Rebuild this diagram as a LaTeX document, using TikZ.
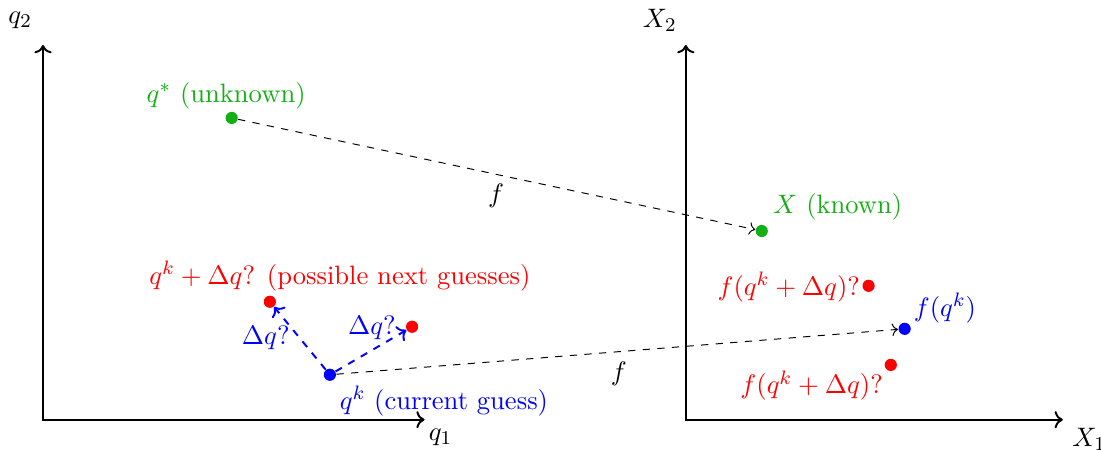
\documentclass[tikz,border=0pt]{standalone}
\usetikzlibrary{arrows.meta, positioning}
\definecolor{cgreen}{RGB}{20,175,20}
\tikzset{
  every picture/.style={font=\fontsize{10.9}{13}\selectfont},
  dot/.style={circle, fill=#1, inner sep=0pt, minimum size=5pt},
  dot/.default=black,
  axis/.style={<->, thick},
  maparrow/.style={->, dashed, draw=black},
  steparrow/.style={->, dashed, thick, draw=blue},
  lbl/.style={text=#1, inner sep=2pt},
  lbl/.default=black,
}
\begin{document}
\begin{tikzpicture}
  \useasboundingbox (-0.62,-0.43) rectangle (15.25,6.05);
  % joint space
  \coordinate (o1) at (0,0);
  \coordinate (q1end) at (5.5,0);
  \coordinate (q2end) at (0,5.4);
  \draw[axis] (q2end) -- (o1) -- (q1end);
  \node[lbl] (q1lab) at (5.73,-0.25) {$q_1$};
  \node[lbl] (q2lab) at (-0.33,5.76) {$q_2$};
  % task space
  \coordinate (o2) at (9.265,0);
  \coordinate (X1end) at (14.7,0);
  \coordinate (X2end) at (9.265,5.4);
  \draw[axis] (X2end) -- (o2) -- (X1end);
  \node[lbl] (X1lab) at (15.08,-0.29) {$X_1$};
  \node[lbl] (X2lab) at (8.89,5.76) {$X_2$};
  % points
  \node[dot=cgreen] (qstar) at (2.72,4.35) {};
  \node[dot=cgreen] (Xk) at (10.36,2.72) {};
  \node[dot=blue] (qk) at (4.135,0.648) {};
  \node[dot=red] (qa) at (3.27,1.70) {};
  \node[dot=red] (qb) at (5.32,1.34) {};
  \node[dot=blue] (fqk) at (12.42,1.31) {};
  \node[dot=red] (fa) at (11.90,1.93) {};
  \node[dot=red] (fb) at (12.22,0.79) {};
  % labels
  \node[lbl=cgreen] (qstarlab) at (2.64,4.67) {$q^*$ (unknown)};
  \node[lbl=cgreen] (Xklab) at (11.455,3.07) {$X$ (known)};
  \node[lbl=red] (nextlab) at (4.28,2.07) {$q^k+\Delta q$? (possible next guesses)};
  \node[lbl=blue] (dqa) at (3.21,1.18) {$\Delta q$?};
  \node[lbl=blue] (dqb) at (4.74,1.33) {$\Delta q$?};
  \node[lbl=blue] (qklab) at (5.78,0.27) {$q^k$ (current guess)};
  \node[lbl=blue] (fqklab) at (13.0,1.61) {$f(q^k)$};
  \node[lbl=red] (falab) at (10.75,1.91) {$f(q^k+\Delta q)$?};
  \node[lbl=red] (fblab) at (11.08,0.49) {$f(q^k+\Delta q)$?};
  % mappings
  \draw[maparrow] (qstar) -- (Xk);
  \node[lbl] (f1) at (6.53,3.23) {$f$};
  \draw[maparrow] (qk) -- (fqk);
  \node[lbl] (f2) at (8.30,0.66) {$f$};
  \draw[steparrow] (qk) -- (qa);
  \draw[steparrow] (qk) -- (qb);
\end{tikzpicture}
\end{document}
